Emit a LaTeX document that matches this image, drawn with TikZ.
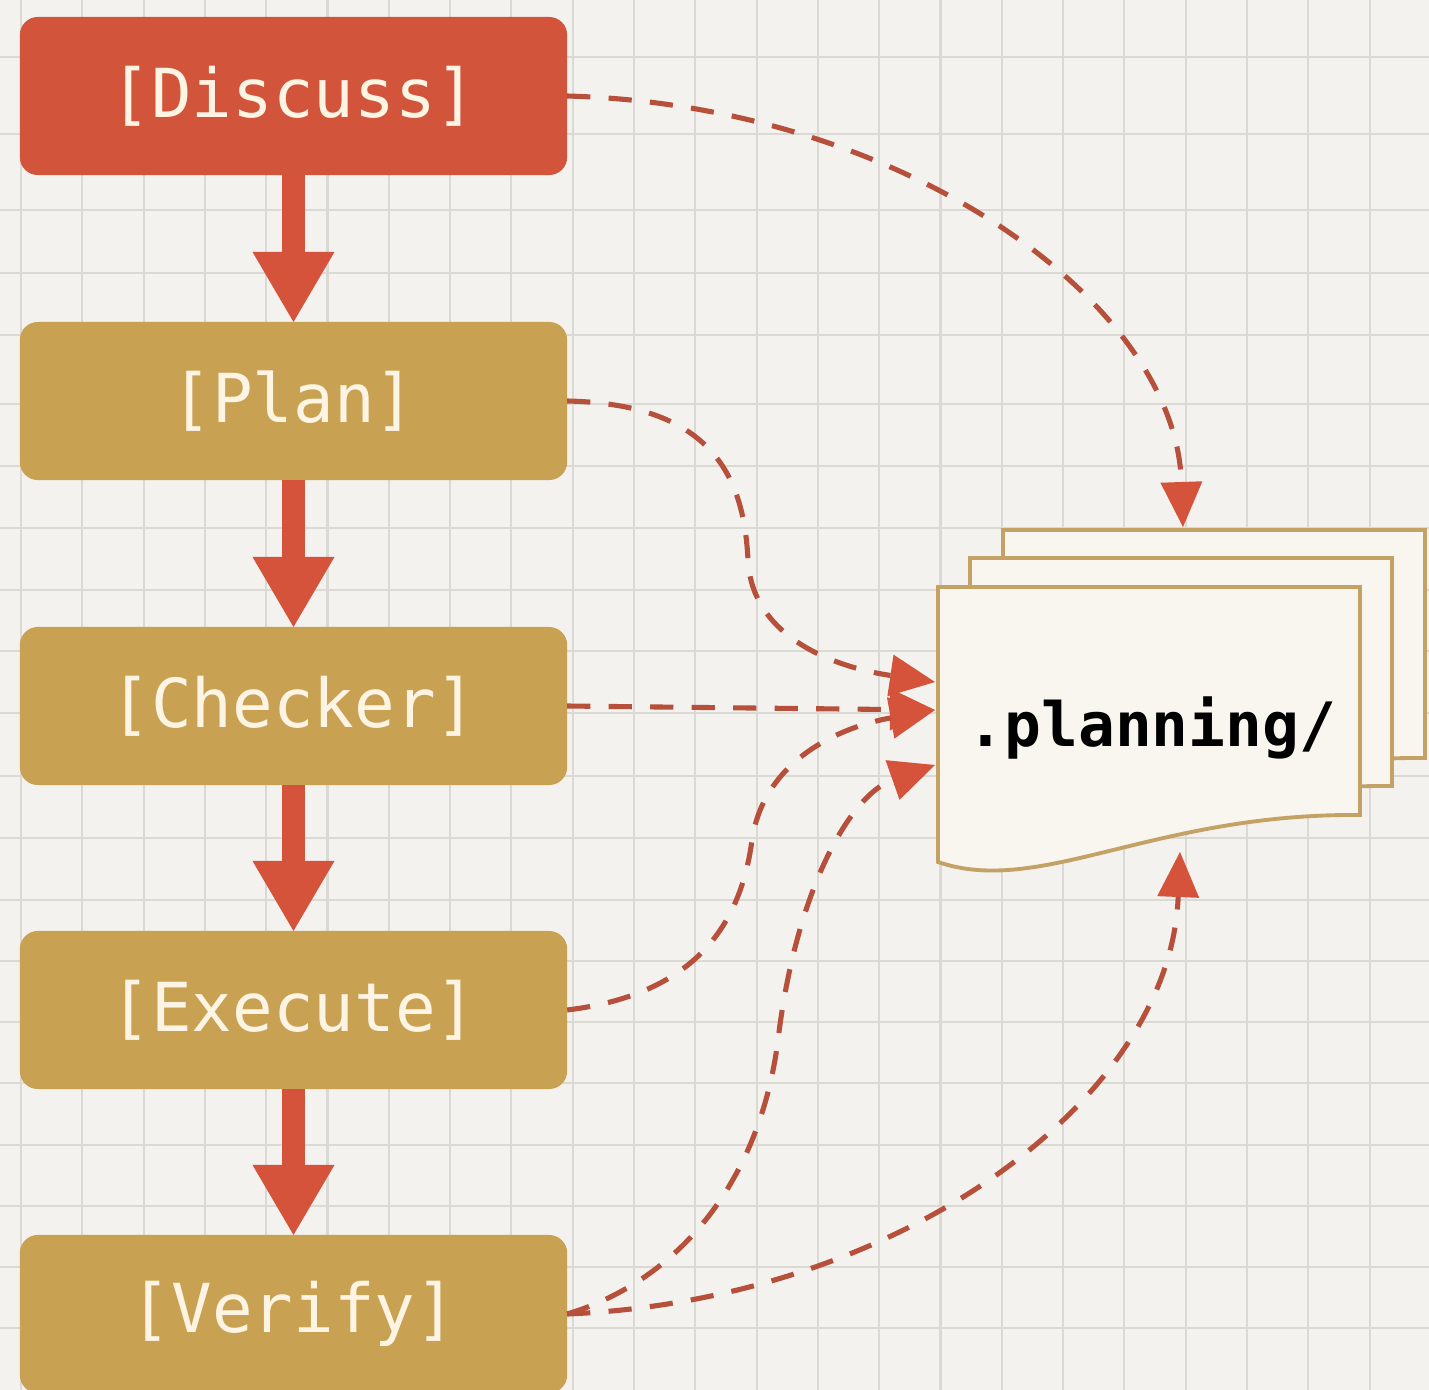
\documentclass[tikz,border=0pt]{standalone}
\usepackage{fontspec}
\setmonofont{DejaVu Sans Mono}
\usetikzlibrary{arrows.meta}

\definecolor{paper}{HTML}{F3F2EE}
\definecolor{gridgray}{HTML}{DAD9D4}
\definecolor{stagered}{HTML}{D2543A}
\definecolor{stagegold}{HTML}{C9A152}
\definecolor{labelcream}{HTML}{FDF4E4}
\definecolor{flowred}{HTML}{D4533A}
\definecolor{linkred}{HTML}{B7503B}
\definecolor{sheetfill}{HTML}{F8F6EE}
\definecolor{sheetedge}{HTML}{C4A266}

\tikzset{
  gridline/.style={gridgray, line width=0.6pt},
  stage/.style={fill=stagegold, minimum width=5.47cm, minimum height=1.58cm,
    inner sep=0pt, outer sep=0pt, rounded corners=0.18cm, text=labelcream,
    font=\ttfamily\fontsize{19.2pt}{23pt}\selectfont},
  flow/.style={draw=flowred, line width=0.22cm,
    -{Triangle[length=0.7cm, width=0.82cm, line width=0pt]}},
  link/.style={draw=linkred, line width=1.45pt, dash pattern=on 6.6pt off 5.2pt,
    -{Triangle[length=0.45cm, width=0.42cm, line width=0pt, color=flowred]}},
  sheet/.style={fill=sheetfill, draw=sheetedge, line width=1.1pt, line join=miter},
}

% one page of the document stack, top-left corner at (#1,#2)
\newcommand{\docsheet}[2]{%
  \draw[sheet] (#1,#2) -- (#1+422,#2) -- (#1+422,#2+228)
    .. controls (#1+215,#2+226) and (#1+102,#2+310) .. (#1,#2+275) -- cycle;}

\begin{document}
\begin{tikzpicture}[x=0.01cm, y=-0.01cm]
  \useasboundingbox (0,0) rectangle (1429,1390);
  \fill[paper] (0,0) rectangle (1429,1390);

  % squared paper
  \foreach \gx in {0,...,22}
    \draw[gridline] ({21+61.3*\gx},0) -- ({21+61.3*\gx},1390);
  \foreach \gy in {57,134,210,273,335,404,466,528,590,651,713,776,838,900,961,1022,1083,1145,1206,1267,1328}
    \draw[gridline] (0,\gy) -- (1429,\gy);

  % workflow stages
  \node[stage, fill=stagered] (discuss) at (293.5,96)  {[Discuss]};
  \node[stage] (plan)    at (293.5,401)  {[Plan]};
  \node[stage] (checker) at (293.5,706)  {[Checker]};
  \node[stage] (execute) at (293.5,1010) {[Execute]};
  \node[stage] (verify)  at (293.5,1314) {[Verify]};

  \draw[flow] (discuss.south) -- (plan.north);
  \draw[flow] (plan.south) -- (checker.north);
  \draw[flow] (checker.south) -- (execute.north);
  \draw[flow] (execute.south) -- (verify.north);

  % the .planning/ document stack
  \docsheet{1003}{530}
  \docsheet{970}{558}
  \docsheet{938}{587}
  \node[font=\ttfamily\bfseries\fontsize{17.4pt}{20pt}\selectfont, text=black]
    (doc) at (1152,728) {.planning/};

  \coordinate (inTop) at (1183,527);
  \coordinate (inPlan) at (935,682);
  \coordinate (inMid) at (935,710);
  \coordinate (inLow) at (935,765);
  \coordinate (inBot) at (1180,852);

  % every stage reads and writes the planning files
  \draw[link] (discuss.east) .. controls (900,105) and (1175,300) .. (inTop);
  \draw[link] (plan.east) .. controls (715,404) and (744,480) .. (748,560)
    .. controls (752,640) and (840,668) .. (inPlan);
  \draw[link] (checker.east) -- (inMid);
  \draw[link] (execute.east) .. controls (690,995) and (740,930) .. (752,840)
    .. controls (764,760) and (840,727) .. (inMid);
  \draw[link] (verify.east) .. controls (680,1280) and (760,1180) .. (778,1040)
    .. controls (796,890) and (850,795) .. (inLow);
  \draw[link] (verify.east) .. controls (900,1300) and (1170,1100) .. (inBot);
\end{tikzpicture}
\end{document}
